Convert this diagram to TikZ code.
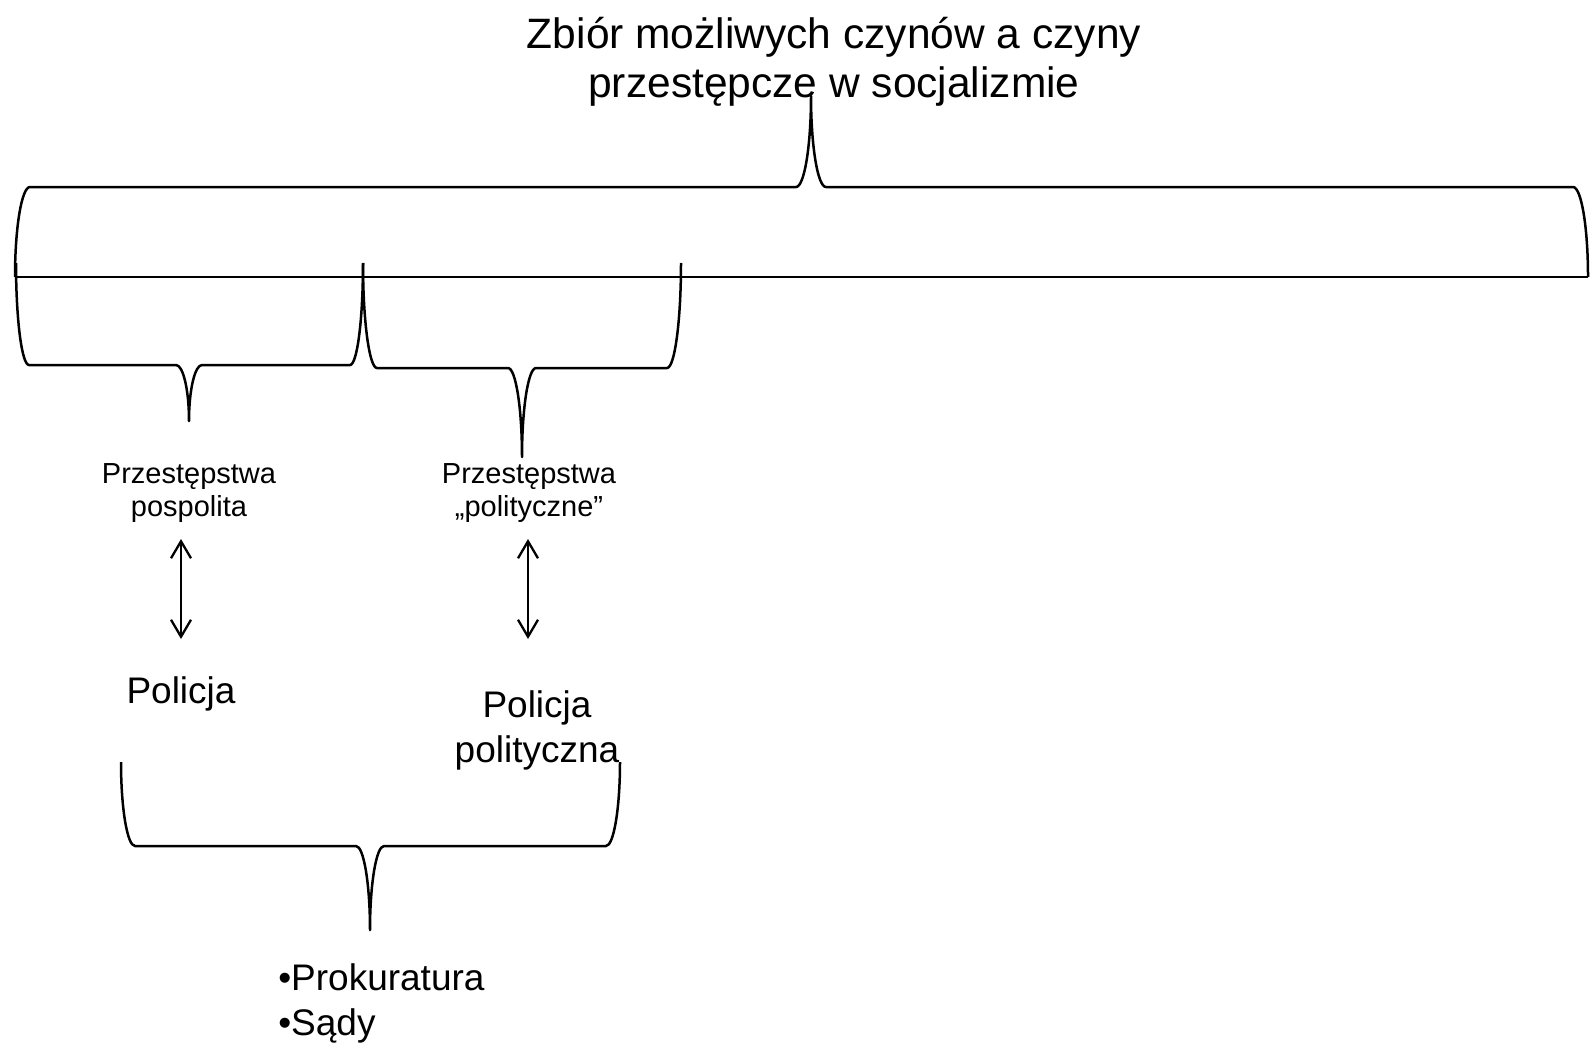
\documentclass[tikz,border=0pt]{standalone}
\usepackage{fontspec}
\setmainfont{Liberation Sans}
\usetikzlibrary{arrows.meta}

\begin{document}
\begin{tikzpicture}[x=1pt,y=-1pt,line width=2.5pt,line join=round,
  titletxt/.style={font=\fontsize{42.5}{49}\selectfont,align=center,inner sep=0pt},
  bigtxt/.style={font=\fontsize{37}{45}\selectfont,align=center,inner sep=0pt},
  smalltxt/.style={font=\fontsize{29}{33}\selectfont,align=center,inner sep=0pt},
  dbl/.style={line width=2.3pt,<->,>={Straight Barb[length=17pt,width=20pt]}}]
  \useasboundingbox (0,0) rectangle (1595,1046);

  % title
  \node[titletxt] (title) at (834,62) {Zbiór możliwych czynów a czyny\\przestępcze w socjalizmie};

  % top brace and the line under it
  \draw (15,277) .. controls (15,227.3) and (21.7,187) .. (30,187) -- (796,187)
    .. controls (804.3,187) and (811,146.2) .. (811,96)
    .. controls (811,146.2) and (817.7,187) .. (826,187) -- (1573,187)
    .. controls (1581.3,187) and (1588,227.3) .. (1588,277);
  \draw[line width=2.7pt] (15,277) -- (1588,277);

  % left brace
  \draw (16,263) .. controls (16,319.3) and (21.8,365) .. (29,365) -- (176,365)
    .. controls (183.2,365) and (189,390.1) .. (189,421)
    .. controls (189,390.1) and (194.8,365) .. (202,365) -- (350,365)
    .. controls (357.2,365) and (363,319.3) .. (363,263);

  % middle brace
  \draw (363,263) .. controls (363,321) and (369.3,368) .. (377,368) -- (508,368)
    .. controls (515.7,368) and (522,407.9) .. (522,457)
    .. controls (522,407.9) and (528.3,368) .. (536,368) -- (667,368)
    .. controls (674.7,368) and (681,321) .. (681,263);

  % kinds of crimes
  \node[smalltxt] (pospolite) at (189,493) {Przestępstwa\\pospolita};
  \node[smalltxt] (polityczne) at (529,493) {Przestępstwa\\„polityczne”};

  % arrows
  \coordinate (a1) at (181,539);
  \coordinate (b1) at (181,639);
  \coordinate (a2) at (528,539);
  \coordinate (b2) at (528,639);
  \draw[dbl] (a1) -- (b1);
  \draw[dbl] (a2) -- (b2);

  % police
  \node[bigtxt] (policja) at (181,694) {Policja};
  \node[bigtxt] (polpol) at (537,730) {Policja\\polityczna};

  % bottom brace
  \draw (121,762) .. controls (121,808.4) and (127.3,846) .. (135,846) -- (356,846)
    .. controls (363.7,846) and (370,883.6) .. (370,930)
    .. controls (370,883.6) and (376.3,846) .. (384,846) -- (606,846)
    .. controls (613.7,846) and (620,808.4) .. (620,762);

  \node[bigtxt,align=left,anchor=west] (sady) at (277,1003) {•Prokuratura\\•Sądy};

\end{tikzpicture}
\end{document}
